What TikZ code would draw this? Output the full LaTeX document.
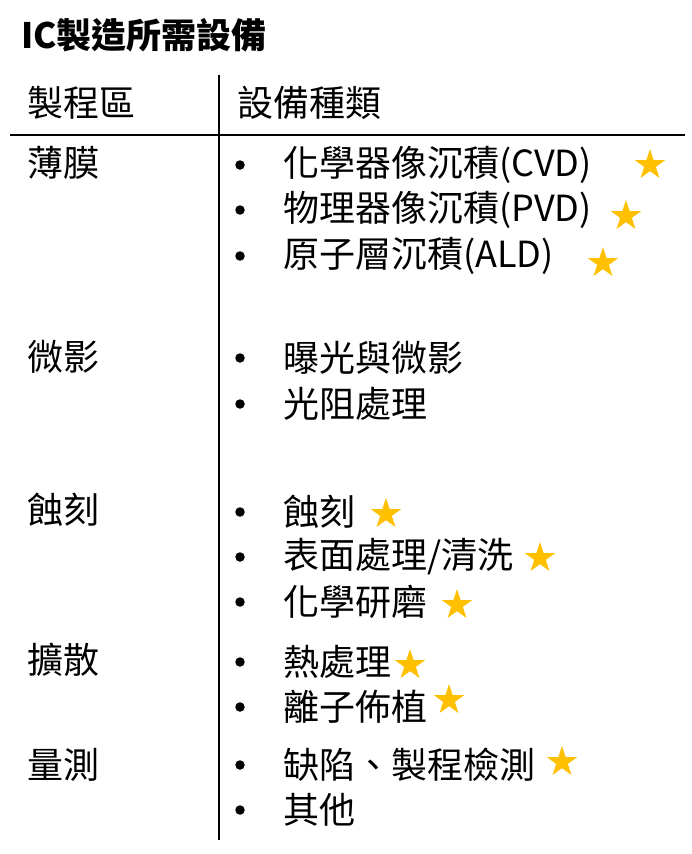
\documentclass[tikz,border=0pt]{standalone}
\usepackage{fontspec}
\setmainfont{Noto Sans CJK TC}
\usetikzlibrary{shapes.geometric}
\definecolor{stargold}{HTML}{FFC000}
\begin{document}
\begin{tikzpicture}[x=1pt,y=-1pt,
    head/.style={anchor=west,inner sep=0pt,font=\fontsize{36}{40}\selectfont},
    item/.style={anchor=west,inner sep=0pt,font=\fontsize{36}{40}\selectfont},
    dot/.style={circle,fill=black,inner sep=0pt,minimum size=9.5pt},
    mark star/.style={star,star points=5,star point ratio=2.6,fill=stargold,inner sep=0pt,minimum size=32pt}]
  \useasboundingbox (0,0) rectangle (692,854);
  \node[anchor=west,inner sep=0pt,font=\bfseries\fontsize{35}{40}\selectfont] (title) at (21,35) {IC製造所需設備};
  % table frame
  \coordinate (vtop) at (219,75);
  \coordinate (vbot) at (219,840);
  \coordinate (hl) at (10,135);
  \coordinate (hr) at (685,135);
  \draw[line width=2pt] (vtop) -- (vbot);
  \draw[line width=2pt] (hl) -- (hr);
  \node[head] (h1) at (27,103) {製程區};
  \node[head] (h2) at (237,103) {設備種類};
  % areas
  \node[item] (a1) at (27,163) {薄膜};
  \node[item] (a2) at (27,357) {微影};
  \node[item] (a3) at (27,510) {蝕刻};
  \node[item] (a4) at (27,660) {擴散};
  \node[item] (a5) at (27,765) {量測};
  % equipment
  \foreach \n/\y/\t in {1/165/{化學器像沉積(CVD)},2/210/{物理器像沉積(PVD)},3/256/{原子層沉積(ALD)},
      4/358/{曝光與微影},5/404/{光阻處理},
      6/512/{蝕刻},7/557/{表面處理/清洗},8/602/{化學研磨},
      9/662/{熱處理},10/707/{離子佈植},
      11/765/{缺陷、製程檢測},12/810/{其他}}
  {
    \node[dot] (b\n) at (240,\y) {};
    \node[item] (e\n) at (283,\y) {\t};
  }
  % stars
  \node[mark star] (s1) at (650,165) {};
  \node[mark star] (s2) at (626,216) {};
  \node[mark star] (s3) at (603,263) {};
  \node[mark star] (s6) at (386,514) {};
  \node[mark star] (s7) at (540,558) {};
  \node[mark star] (s8) at (457,605) {};
  \node[mark star] (s9) at (410,665) {};
  \node[mark star] (s10) at (449,700) {};
  \node[mark star] (s11) at (562,762) {};
\end{tikzpicture}
\end{document}
